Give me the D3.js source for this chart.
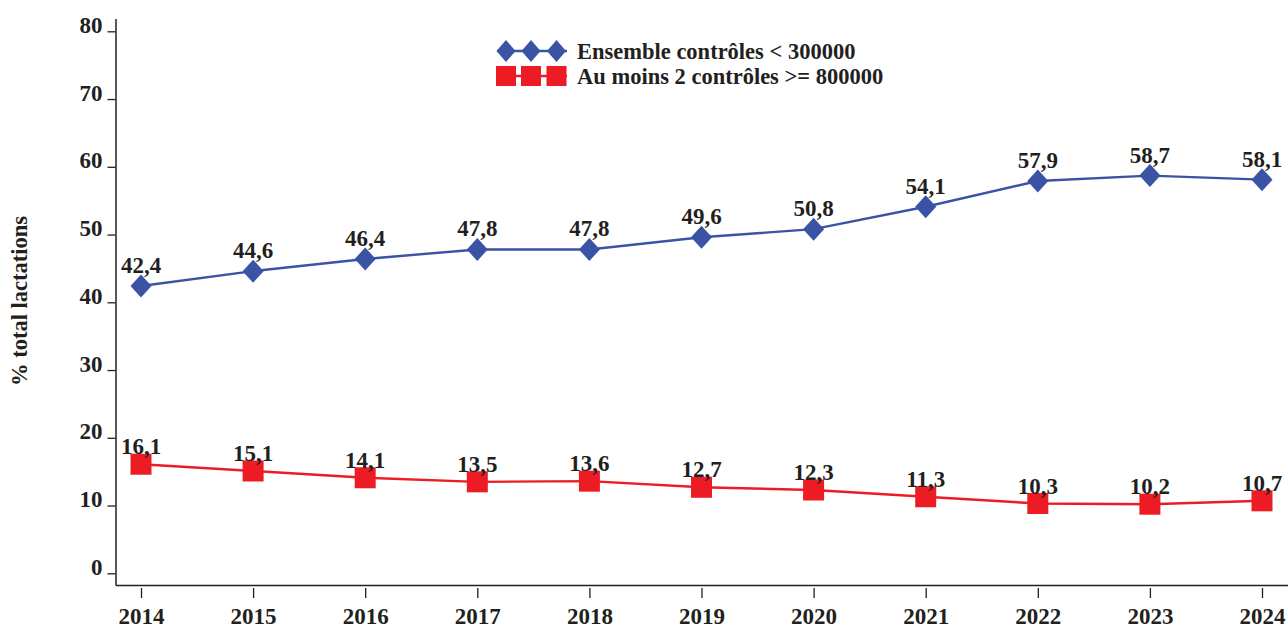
<!DOCTYPE html>
<html>
<head>
<meta charset="utf-8">
<script src="https://cdn.jsdelivr.net/npm/d3@7"></script>
<style>
  body { margin: 0; background: #fff; }
  svg { display: block; }
  text { font-family: 'Liberation Serif', 'Times New Roman', serif; font-weight: bold; fill: #231f20; }
</style>
</head>
<body>
<div id="chart"></div>
<script>
const years = ['2014', '2015', '2016', '2017', '2018', '2019', '2020', '2021', '2022', '2023', '2024']
const ensemble = [42.4, 44.6, 46.4, 47.8, 47.8, 49.6, 50.8, 54.1, 57.9, 58.7, 58.1]
const auMoins = [16.1, 15.1, 14.1, 13.5, 13.6, 12.7, 12.3, 11.3, 10.3, 10.2, 10.7]
const yTicks = [0, 10, 20, 30, 40, 50, 60, 70, 80]
const seriesNames = ['Ensemble contrôles < 300000', 'Au moins 2 contrôles >= 800000']

const width = 1288
const height = 628
const blue = '#3a53a4'
const red = '#ed1c24'
const ink = '#231f20'

const svg = d3.select('#chart')
  .append('svg')
  .attr('width', width)
  .attr('height', height)

// x positions: ticks sit at each year, first at 141, last at 1262
const x = d3.scalePoint()
  .domain(years)
  .range([141, 1262])

const y = d3.scaleLinear()
  .domain([0, 80])
  .range([573.3, 31.3])

const axisX = 116
const axisY = 585.5

// Y axis line
svg.append('line')
  .attr('x1', axisX).attr('x2', axisX)
  .attr('y1', 19).attr('y2', axisY)
  .attr('stroke', ink)
  .attr('stroke-width', 1.5)

// X axis line
svg.append('line')
  .attr('x1', axisX).attr('x2', width)
  .attr('y1', axisY).attr('y2', axisY)
  .attr('stroke', ink)
  .attr('stroke-width', 1.5)

// Y ticks and labels
const yAxis = d3.axisLeft(y)
  .tickValues(yTicks)
  .tickSize(8)
  .tickPadding(5)

svg.append('g')
  .attr('transform', `translate(${axisX - 0.5},0)`)
  .call(yAxis)
  .call(g => g.select('.domain').remove())
  .call(g => g.selectAll('.tick line').attr('stroke', ink).attr('stroke-width', 1.3))
  .call(g => g.selectAll('.tick text')
    .attr('font-size', '23px')
    .attr('font-family', "'Liberation Serif', serif")
    .attr('font-weight', 'bold')
    .attr('fill', ink)
    .attr('dy', '0.05em'))

// X ticks and labels
const xAxis = d3.axisBottom(x)
  .tickSize(10)
  .tickPadding(10)

svg.append('g')
  .attr('transform', `translate(0,${axisY + 2.5})`)
  .call(xAxis)
  .call(g => g.select('.domain').remove())
  .call(g => g.selectAll('.tick line').attr('stroke', ink).attr('stroke-width', 1.3))
  .call(g => g.selectAll('.tick text')
    .attr('font-size', '23px')
    .attr('font-family', "'Liberation Serif', serif")
    .attr('font-weight', 'bold')
    .attr('fill', ink))

// Y axis title
svg.append('text')
  .attr('transform', `translate(27,301)rotate(-90)`)
  .attr('text-anchor', 'middle')
  .attr('font-size', '22.5px')
  .text('% total lactations')

const line = d3.line()
  .x((d, i) => x(years[i]))
  .y(d => y(d))

const diamond = (w, h) => `M0,${-h}L${w},0L0,${h}L${-w},0Z`

// Blue series
svg.append('path')
  .datum(ensemble)
  .attr('fill', 'none')
  .attr('stroke', blue)
  .attr('stroke-width', 2.4)
  .attr('d', line)

svg.append('g')
  .selectAll('path')
  .data(ensemble)
  .join('path')
  .attr('transform', (d, i) => `translate(${x(years[i])},${y(d)})`)
  .attr('d', diamond(10.5, 11.5))
  .attr('fill', blue)

svg.append('g')
  .selectAll('text')
  .data(ensemble)
  .join('text')
  .attr('x', (d, i) => x(years[i]))
  .attr('y', d => y(d) - 13)
  .attr('text-anchor', 'middle')
  .attr('font-size', '23px')
  .text(d => d.toFixed(1).replace('.', ','))

// Red series
svg.append('path')
  .datum(auMoins)
  .attr('fill', 'none')
  .attr('stroke', red)
  .attr('stroke-width', 2.4)
  .attr('d', line)

svg.append('g')
  .selectAll('rect')
  .data(auMoins)
  .join('rect')
  .attr('x', (d, i) => x(years[i]) - 10.5)
  .attr('y', d => y(d) - 10.5)
  .attr('width', 21)
  .attr('height', 21)
  .attr('fill', red)

svg.append('g')
  .selectAll('text')
  .data(auMoins)
  .join('text')
  .attr('x', (d, i) => x(years[i]))
  .attr('y', d => y(d) - 10)
  .attr('text-anchor', 'middle')
  .attr('font-size', '23px')
  .text(d => d.toFixed(1).replace('.', ','))

// Legend
const legend = svg.append('g').attr('transform', 'translate(497,0)')
const legendRows = [
  { name: seriesNames[0], color: blue, type: 'diamond', cy: 51 },
  { name: seriesNames[1], color: red, type: 'square', cy: 76 }
]
const legendMarks = [9, 34, 59.5]

legendRows.forEach(row => {
  const g = legend.append('g').attr('transform', `translate(0,${row.cy})`)
  g.append('line')
    .attr('x1', 0).attr('x2', 70)
    .attr('stroke', row.color)
    .attr('stroke-width', 2.4)
  legendMarks.forEach(mx => {
    if (row.type === 'diamond') {
      g.append('path')
        .attr('transform', `translate(${mx},0)`)
        .attr('d', diamond(9.5, 11))
        .attr('fill', row.color)
    } else {
      g.append('rect')
        .attr('x', mx - 10).attr('y', -10)
        .attr('width', 20).attr('height', 20)
        .attr('fill', row.color)
    }
  })
  g.append('text')
    .attr('x', 80)
    .attr('y', 8)
    .attr('font-size', '22.5px')
    .text(row.name)
})
</script>
</body>
</html>
